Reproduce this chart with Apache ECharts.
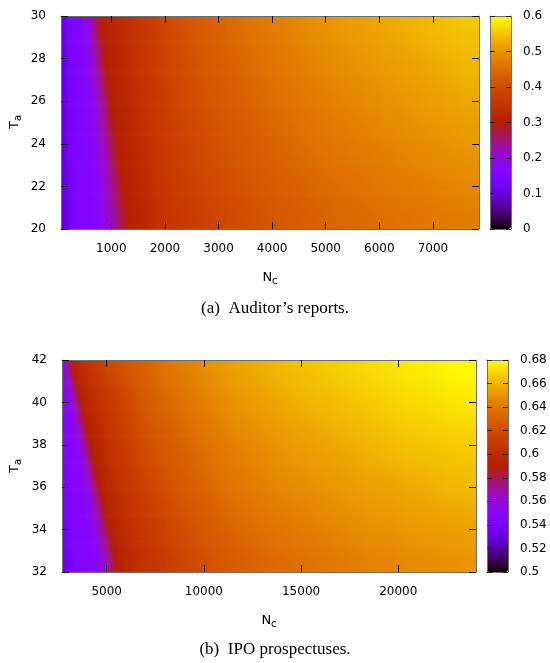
<!DOCTYPE html>
<html><head><meta charset="utf-8">
<script src="https://cdn.jsdelivr.net/npm/echarts@6/dist/echarts.min.js"></script>
<style>html,body{margin:0;padding:0;background:#fff}#c{width:550px;height:663px}</style>
</head><body><div id="c"></div>
<script>
// ---------- (a) Auditor's reports ----------
const xRangeA = [60, 7860];
const yRangeA = [20, 30];
// sample positions (N_c) of the values
const xNodesA = [110,210,310,410,510,610,710,810,910,1010,1110,1210,1310,1410,1510,1660,1860,2110,2410,2760,3160,3610,4110,4610,5110,5610,6110,6610,7110,7610];
const yNodesA = [20.5,21.5,22.5,23.5,24.5,25.5,26.5,27.5,28.5,29.5];
// rows from Ta=20.5 (bottom) up to Ta=29.5 (top)
const valuesA = [
 [0.09,0.12,0.14,0.15,0.153,0.155,0.163,0.180,0.201,0.225,0.250,0.277,0.302,0.310,0.318,0.325,0.345,0.358,0.370,0.383,0.395,0.407,0.420,0.430,0.440,0.447,0.455,0.461,0.467,0.473],
 [0.09,0.122,0.141,0.15,0.153,0.155,0.168,0.187,0.210,0.236,0.263,0.292,0.306,0.314,0.322,0.329,0.349,0.362,0.375,0.388,0.401,0.413,0.426,0.437,0.447,0.454,0.462,0.469,0.475,0.482],
 [0.095,0.124,0.142,0.151,0.153,0.157,0.173,0.195,0.220,0.248,0.278,0.302,0.310,0.318,0.326,0.334,0.353,0.367,0.380,0.393,0.406,0.419,0.432,0.443,0.454,0.461,0.470,0.477,0.484,0.491],
 [0.095,0.127,0.143,0.151,0.153,0.161,0.180,0.205,0.232,0.262,0.294,0.307,0.315,0.323,0.331,0.338,0.357,0.371,0.384,0.399,0.412,0.425,0.438,0.450,0.461,0.469,0.477,0.485,0.492,0.499],
 [0.10,0.129,0.144,0.152,0.154,0.166,0.188,0.215,0.246,0.279,0.303,0.311,0.319,0.327,0.335,0.343,0.361,0.376,0.389,0.404,0.417,0.431,0.444,0.457,0.468,0.476,0.485,0.493,0.500,0.508],
 [0.10,0.131,0.146,0.152,0.154,0.172,0.198,0.228,0.261,0.297,0.307,0.315,0.323,0.331,0.339,0.347,0.365,0.380,0.394,0.409,0.423,0.437,0.451,0.463,0.475,0.483,0.492,0.501,0.509,0.517],
 [0.10,0.133,0.147,0.153,0.158,0.180,0.209,0.243,0.279,0.304,0.312,0.320,0.328,0.336,0.344,0.352,0.368,0.385,0.399,0.414,0.428,0.442,0.457,0.470,0.481,0.490,0.500,0.508,0.517,0.526],
 [0.10,0.136,0.148,0.153,0.163,0.190,0.223,0.260,0.300,0.308,0.316,0.324,0.332,0.340,0.348,0.356,0.372,0.389,0.404,0.420,0.434,0.448,0.463,0.477,0.488,0.498,0.507,0.516,0.525,0.535],
 [0.10,0.138,0.149,0.154,0.170,0.201,0.239,0.281,0.304,0.312,0.320,0.328,0.336,0.344,0.353,0.361,0.376,0.394,0.408,0.425,0.439,0.454,0.469,0.483,0.495,0.505,0.515,0.524,0.534,0.543],
 [0.10,0.14,0.15,0.155,0.180,0.216,0.258,0.301,0.309,0.317,0.325,0.333,0.341,0.349,0.357,0.365,0.380,0.398,0.413,0.430,0.445,0.460,0.475,0.490,0.502,0.512,0.522,0.532,0.542,0.552]
];
const xTicksA = [1000,2000,3000,4000,5000,6000,7000];
const cbTicksA = [0, 0.6, 0.1];      // min, max, step of colour box

// ---------- (b) IPO prospectuses ----------
const xRangeB = [2700, 24000];
const yRangeB = [32, 42];
const xNodesB = [2825,3075,3325,3575,3825,4075,4325,4575,4825,5075,5325,5575,5825,6075,6400,6800,7250,7750,8500,9500,10500,11500,12500,13500,14500,15500,16500,17500,18500,19500,20500,21500,22500,23500];
const yNodesB = [32.5,33.5,34.5,35.5,36.5,37.5,38.5,39.5,40.5,41.5];
const valuesB = [
 [0.532,0.540,0.544,0.546,0.547,0.548,0.550,0.554,0.562,0.571,0.582,0.591,0.594,0.597,0.600,0.603,0.606,0.609,0.614,0.619,0.624,0.628,0.631,0.634,0.636,0.638,0.640,0.642,0.644,0.645,0.647,0.648,0.649,0.650],
 [0.535,0.542,0.545,0.547,0.548,0.549,0.552,0.560,0.570,0.581,0.591,0.595,0.597,0.600,0.603,0.606,0.609,0.612,0.617,0.622,0.627,0.631,0.634,0.637,0.639,0.641,0.643,0.645,0.647,0.648,0.650,0.651,0.652,0.653],
 [0.538,0.544,0.546,0.548,0.549,0.551,0.559,0.569,0.581,0.591,0.595,0.598,0.600,0.603,0.606,0.609,0.612,0.615,0.620,0.625,0.630,0.634,0.637,0.640,0.642,0.644,0.646,0.648,0.650,0.651,0.653,0.654,0.655,0.656],
 [0.541,0.546,0.548,0.549,0.550,0.557,0.567,0.580,0.591,0.595,0.598,0.601,0.603,0.605,0.608,0.612,0.615,0.618,0.623,0.628,0.633,0.637,0.640,0.643,0.645,0.647,0.649,0.651,0.653,0.654,0.656,0.657,0.659,0.660],
 [0.544,0.547,0.549,0.550,0.555,0.566,0.579,0.591,0.595,0.598,0.601,0.603,0.606,0.608,0.611,0.615,0.618,0.621,0.626,0.631,0.636,0.640,0.643,0.646,0.648,0.650,0.652,0.654,0.656,0.657,0.659,0.660,0.662,0.663],
 [0.547,0.548,0.550,0.553,0.564,0.578,0.591,0.595,0.598,0.601,0.604,0.606,0.609,0.611,0.614,0.618,0.621,0.624,0.628,0.633,0.638,0.642,0.645,0.648,0.651,0.653,0.655,0.657,0.659,0.661,0.663,0.664,0.665,0.666],
 [0.549,0.550,0.552,0.562,0.577,0.591,0.595,0.598,0.601,0.604,0.607,0.609,0.612,0.614,0.617,0.621,0.624,0.627,0.631,0.636,0.641,0.645,0.648,0.651,0.654,0.656,0.658,0.660,0.662,0.664,0.666,0.667,0.668,0.669],
 [0.550,0.550,0.560,0.575,0.591,0.595,0.598,0.602,0.604,0.607,0.610,0.612,0.615,0.617,0.620,0.624,0.627,0.630,0.634,0.639,0.644,0.648,0.651,0.654,0.657,0.659,0.661,0.663,0.665,0.667,0.669,0.670,0.672,0.673],
 [0.551,0.558,0.574,0.591,0.595,0.599,0.602,0.605,0.608,0.610,0.613,0.615,0.618,0.620,0.623,0.627,0.630,0.633,0.637,0.642,0.647,0.651,0.654,0.657,0.660,0.662,0.664,0.666,0.668,0.670,0.672,0.673,0.675,0.676],
 [0.556,0.577,0.591,0.597,0.601,0.605,0.608,0.611,0.614,0.617,0.619,0.621,0.623,0.625,0.627,0.630,0.633,0.636,0.640,0.645,0.650,0.654,0.657,0.660,0.663,0.665,0.667,0.669,0.671,0.673,0.675,0.676,0.678,0.679]
];
const xTicksB = [5000,10000,15000,20000];
const cbTicksB = [0.5, 0.68, 0.02];

// ---------- styling helpers ----------
const FONT = 'DejaVu Sans';
const BORDER = '#6e6e6e';
// gnuplot default palette (rgbformulae 7,5,15)
function palRGB(t) {
  t = Math.max(0, Math.min(1, t));
  return 'rgb(' + Math.round(255 * Math.sqrt(t)) + ',' + Math.round(255 * t * t * t) + ',' +
    Math.round(255 * Math.max(0, Math.sin(2 * Math.PI * t))) + ')';
}
const palette = [];
for (let i = 0; i <= 60; i++) palette.push(palRGB(i / 60));

// pm3d-like patches: each patch spans between neighbouring sample positions
// and carries the four measured corner values (no new values are made up).
function patches(xR, yR, xN, yN, vals) {
  const xs = [xR[0]].concat(xN, [xR[1]]);
  const ys = [yR[0]].concat(yN, [yR[1]]);
  const cl = (i, n) => Math.max(0, Math.min(n - 1, i));
  const out = [];
  for (let j = 0; j < ys.length - 1; j++) {
    const jb = cl(j - 1, yN.length), jt = cl(j, yN.length);
    for (let i = 0; i < xs.length - 1; i++) {
      const il = cl(i - 1, xN.length), ir = cl(i, xN.length);
      out.push([xs[i], xs[i + 1], ys[j], ys[j + 1],
        vals[jb][il], vals[jb][ir], vals[jt][il], vals[jt][ir]]);
    }
  }
  return out;
}
function makeRender(lo, hi) {
  const col = v => palRGB((v - lo) / (hi - lo));
  return function (params, api) {
    const a = api.coord([api.value(0), api.value(3)]);
    const b = api.coord([api.value(1), api.value(2)]);
    const bl = api.value(4), br = api.value(5), tl = api.value(6), tr = api.value(7);
    const w = b[0] - a[0], h = b[1] - a[1];
    const n = Math.max(1, Math.round(h / 2));
    const children = [];
    for (let s = 0; s < n; s++) {
      const f = (s + 0.5) / n; // 0 at top, 1 at bottom
      const vl = tl * (1 - f) + bl * f, vr = tr * (1 - f) + br * f;
      const fill = new echarts.graphic.LinearGradient(0, 0, 1, 0, [
        { offset: 0, color: col(vl) },
        { offset: 0.5, color: col((vl + vr) / 2) },
        { offset: 1, color: col(vr) }
      ]);
      children.push({ type: 'rect', shape: { x: a[0], y: a[1] + s * h / n, width: w + 0.7, height: h / n + 0.7 },
        style: { fill: fill } });
    }
    return { type: 'group', children: children };
  };
}
const fmt = v => String(parseFloat((+v).toFixed(3)));
const lbl = (extra) => Object.assign({ fontFamily: FONT, fontSize: 12, color: '#000', formatter: fmt }, extra);
const line = { show: true, onZero: false, lineStyle: { color: BORDER, width: 1 } };

function mainX(gi, r, ticks, pos, showLabel) {
  return { gridIndex: gi, type: 'value', min: r[0], max: r[1], position: pos, z: 5,
    axisLine: line,
    axisTick: { show: true, inside: true, length: 7, customValues: ticks, lineStyle: { color: '#111' } },
    axisLabel: lbl({ show: showLabel, margin: 14, customValues: ticks }),
    splitLine: { show: false } };
}
function mainY(gi, r, pos, showLabel) {
  return { gridIndex: gi, type: 'value', min: r[0], max: r[1], interval: 2, position: pos, z: 5,
    axisLine: line,
    axisTick: { show: true, inside: true, length: 7, lineStyle: { color: '#111' } },
    axisLabel: lbl({ show: showLabel, margin: 15 }),
    splitLine: { show: false } };
}
function cbX(gi, pos) {
  return { gridIndex: gi, type: 'value', min: 0, max: 1, position: pos, z: 10,
    axisLine: line, axisTick: { show: false }, axisLabel: { show: false }, splitLine: { show: false } };
}
function cbY(gi, t, pos, showLabel) {
  return { gridIndex: gi, type: 'value', min: t[0], max: t[1], interval: t[2], position: pos, z: 10,
    axisLine: line,
    axisTick: { show: true, inside: true, length: 5, lineStyle: { color: '#222' } },
    axisLabel: lbl({ show: showLabel, margin: 12 }),
    splitLine: { show: false } };
}
function richName(main, sub, size) {
  return { text: '{m|' + main + '}{s|' + sub + '}', align: 'center', verticalAlign: 'middle',
    rich: { m: { fontFamily: FONT, fontSize: size, fill: '#000' },
            s: { fontFamily: FONT, fontSize: size - 3, fill: '#000', padding: [6, 0, 0, 0] } } };
}

const chart = echarts.init(document.getElementById('c'), null, { renderer: 'canvas' });
chart.setOption({
  animation: false,
  backgroundColor: '#fff',
  grid: [
    { left: 61, top: 16, width: 418, height: 213 },
    { left: 62, top: 360, width: 414, height: 212 },
    { left: 490, top: 16, width: 21, height: 213 },
    { left: 487, top: 360, width: 21, height: 212 }
  ],
  xAxis: [
    mainX(0, xRangeA, xTicksA, 'bottom', true),
    mainX(0, xRangeA, xTicksA, 'top', false),
    mainX(1, xRangeB, xTicksB, 'bottom', true),
    mainX(1, xRangeB, xTicksB, 'top', false),
    cbX(2, 'bottom'), cbX(2, 'top'), cbX(3, 'bottom'), cbX(3, 'top')
  ],
  yAxis: [
    mainY(0, yRangeA, 'left', true),
    mainY(0, yRangeA, 'right', false),
    mainY(1, yRangeB, 'left', true),
    mainY(1, yRangeB, 'right', false),
    cbY(2, cbTicksA, 'left', false), cbY(2, cbTicksA, 'right', true),
    cbY(3, cbTicksB, 'left', false), cbY(3, cbTicksB, 'right', true)
  ],
  visualMap: [
    { type: 'continuous', seriesIndex: 0, dimension: 4, min: cbTicksA[0], max: cbTicksA[1],
      inRange: { color: palette }, orient: 'vertical', left: 490, top: 16, itemWidth: 21, itemHeight: 213,
      padding: 0, calculable: false, text: null, hoverLink: false, z: 4 },
    { type: 'continuous', seriesIndex: 1, dimension: 4, min: cbTicksB[0], max: cbTicksB[1],
      inRange: { color: palette }, orient: 'vertical', left: 487, top: 360, itemWidth: 21, itemHeight: 212,
      padding: 0, calculable: false, text: null, hoverLink: false, z: 4 }
  ],
  series: [
    { type: 'custom', xAxisIndex: 0, yAxisIndex: 0, clip: true, silent: true,
      renderItem: makeRender(cbTicksA[0], cbTicksA[1]), encode: { x: [0, 1], y: [2, 3] },
      data: patches(xRangeA, yRangeA, xNodesA, yNodesA, valuesA) },
    { type: 'custom', xAxisIndex: 2, yAxisIndex: 2, clip: true, silent: true,
      renderItem: makeRender(cbTicksB[0], cbTicksB[1]), encode: { x: [0, 1], y: [2, 3] },
      data: patches(xRangeB, yRangeB, xNodesB, yNodesB, valuesB) }
  ],
  graphic: [
    { type: 'text', x: 15, y: 122, rotation: Math.PI / 2, style: richName('T', 'a', 13) },
    { type: 'text', x: 15, y: 466, rotation: Math.PI / 2, style: richName('T', 'a', 13) },
    { type: 'text', x: 270, y: 278, style: richName('N', 'c', 13) },
    { type: 'text', x: 269, y: 621, style: richName('N', 'c', 13) },
    { type: 'text', x: 275, y: 309, style: { text: '(a)  Auditor\u2019s reports.', fontFamily: 'Liberation Serif', fontSize: 17, fill: '#000', align: 'center', verticalAlign: 'middle' } },
    { type: 'text', x: 275, y: 650, style: { text: '(b)  IPO prospectuses.', fontFamily: 'Liberation Serif', fontSize: 17, fill: '#000', align: 'center', verticalAlign: 'middle' } }
  ]
});
</script>
</body></html>
